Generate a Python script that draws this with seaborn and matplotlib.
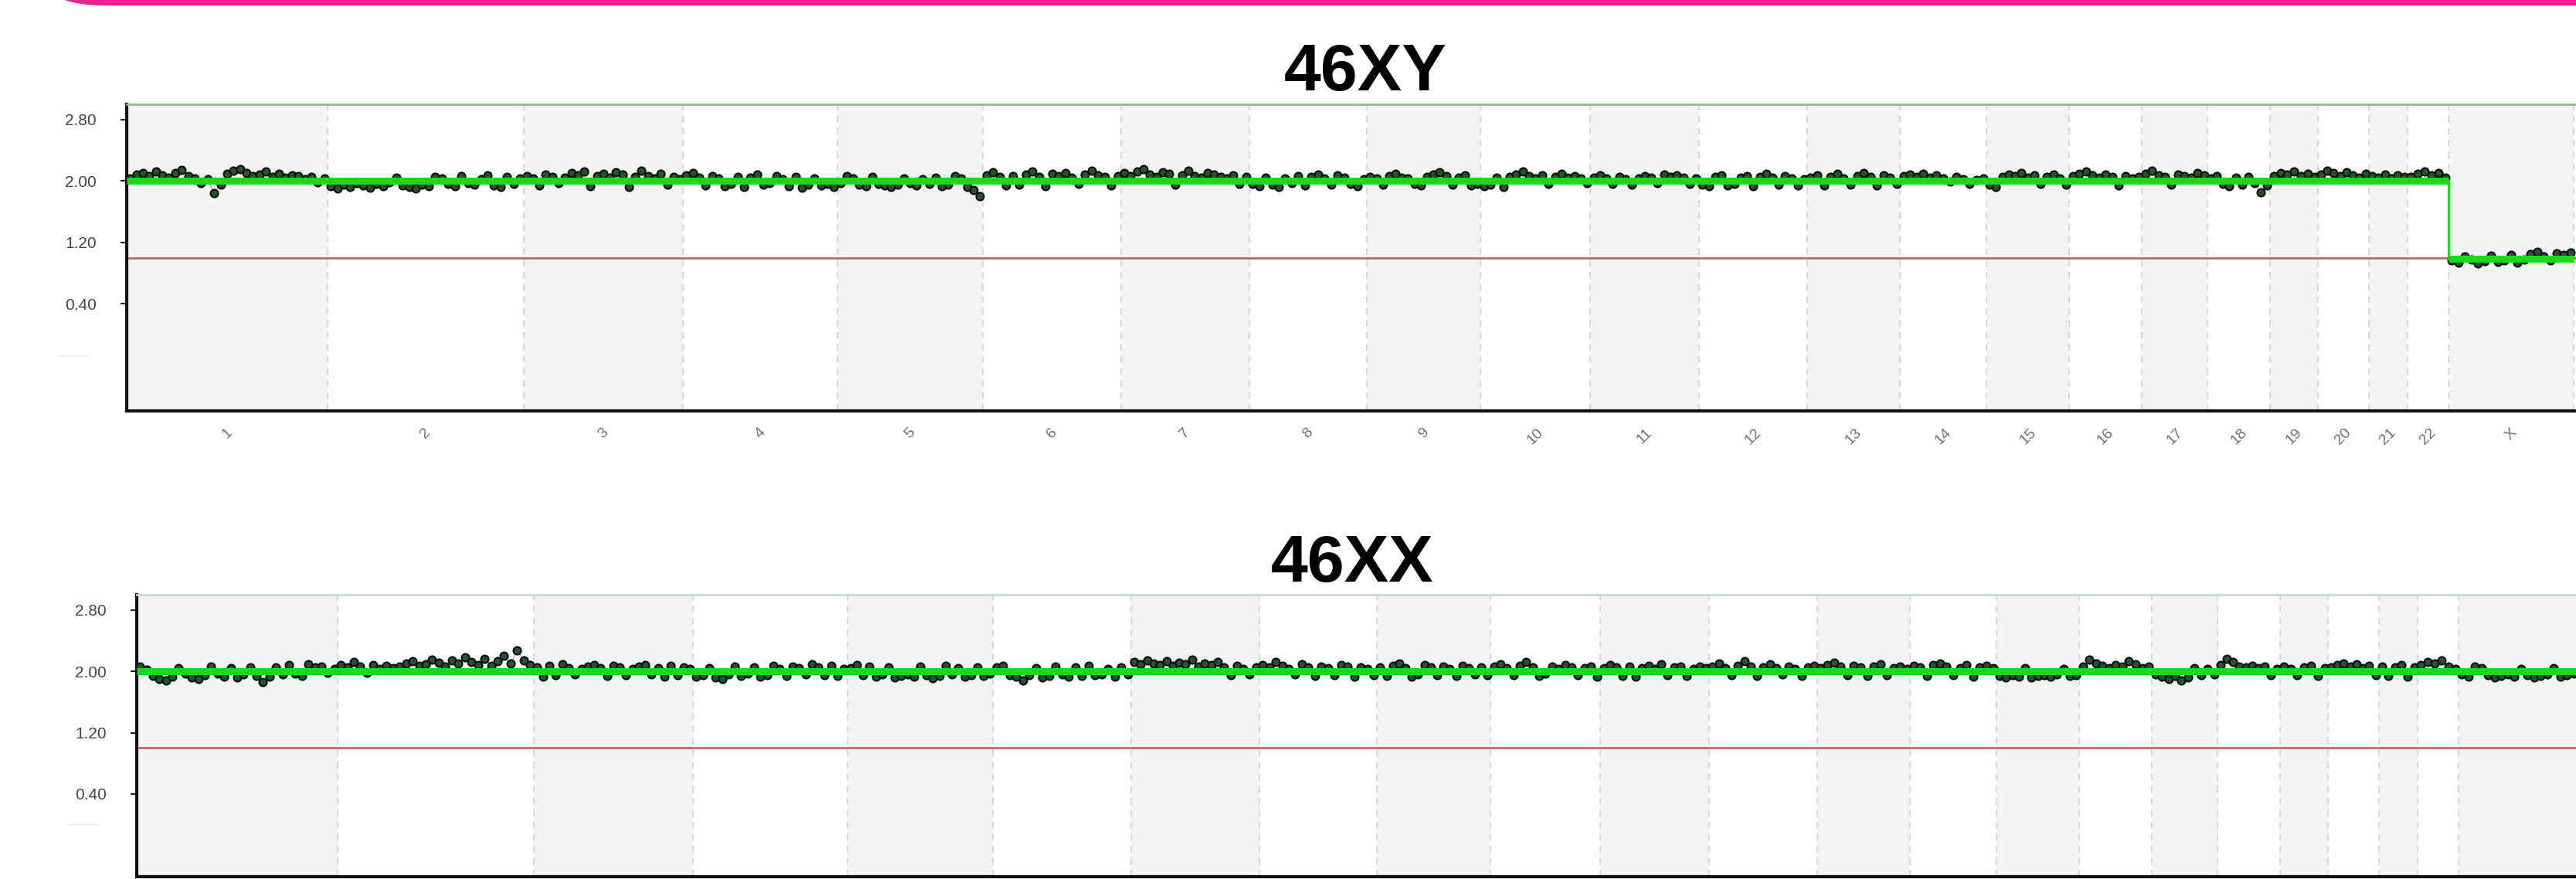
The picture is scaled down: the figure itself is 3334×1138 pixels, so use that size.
import numpy as np
import pandas as pd
import matplotlib
matplotlib.use("Agg")
import matplotlib.pyplot as plt
import seaborn as sns
from matplotlib.patches import FancyBboxPatch
from matplotlib.transforms import IdentityTransform

# chromosome layout (sizes in Mb, hg19)
chrom_names = ["1", "2", "3", "4", "5", "6", "7", "8", "9", "10", "11", "12",
               "13", "14", "15", "16", "17", "18", "19", "20", "21", "22", "X", "Y"]
chrom_sizes = [249, 243, 198, 191, 181, 171, 159, 146, 141, 136, 135, 134,
               115, 107, 103, 90, 81, 78, 59, 63, 48, 51, 155, 59]

y_ticks = [2.80, 2.00, 1.20, 0.40]
y_tick_labels = ["2.80", "2.00", "1.20", "0.40"]

# copy number per bin, one list per chromosome (46XY sample)
xy_cn = [
    [2.03, 2.08, 2.10, 2.06, 2.12, 2.07, 2.04, 2.10, 2.14, 2.06, 2.03, 1.97, 2.02, 1.84, 1.95, 2.09,
     2.13, 2.15, 2.10, 2.06, 2.08, 2.12, 2.05, 2.09, 2.04, 2.07, 2.06, 2.02, 2.05, 1.98, 2.03],
    [1.93, 1.90, 1.95, 1.92, 1.97, 1.94, 1.91, 1.96, 1.93, 1.98, 2.04, 1.94, 1.92, 1.90, 1.95, 1.93,
     2.05, 2.03, 1.96, 1.93, 2.06, 1.97, 1.95, 2.02, 2.07, 1.94, 1.92, 2.05, 1.96, 2.03],
    [2.06, 2.03, 1.94, 2.08, 2.05, 1.97, 2.04, 2.10, 2.07, 2.12, 1.93, 2.06, 2.09, 2.04, 2.11, 2.08,
     1.92, 2.05, 2.13, 2.06, 2.03, 2.09, 1.95, 2.05, 2.02],
    [2.07, 2.10, 2.04, 1.94, 2.06, 2.03, 1.93, 1.96, 2.05, 1.92, 2.04, 2.08, 1.95, 1.97, 2.06, 2.02,
     1.93, 2.05, 1.91, 1.95, 2.03, 1.94, 1.96, 1.92],
    [1.97, 2.06, 2.03, 1.95, 1.93, 2.05, 1.96, 1.94, 1.92, 1.95, 2.03, 1.97, 1.94, 2.02, 1.96, 2.04,
     1.93, 1.95, 2.06, 2.03, 1.92, 1.88, 1.80],
    [2.07, 2.11, 2.05, 1.94, 2.06, 1.95, 2.08, 2.12, 2.05, 1.93, 2.09, 2.06, 2.10, 2.04, 1.96, 2.08,
     2.13, 2.07, 2.05, 1.94, 2.06],
    [2.10, 2.06, 2.12, 2.15, 2.08, 2.05, 2.11, 2.09, 1.95, 2.07, 2.13, 2.06, 2.04, 2.10, 2.08, 2.05,
     2.03, 2.07, 1.96, 2.05],
    [1.96, 1.93, 2.04, 1.95, 1.92, 2.03, 1.97, 2.06, 1.94, 2.05, 2.08, 2.03, 1.95, 2.07, 2.04, 1.96, 1.93, 2.02],
    [2.05, 2.03, 1.95, 2.06, 2.09, 2.04, 2.03, 1.96, 1.94, 2.05, 2.08, 2.11, 2.06, 1.95, 2.04, 2.07, 1.94, 1.96],
    [1.93, 1.95, 2.04, 1.92, 2.05, 2.08, 2.12, 2.06, 2.03, 2.07, 1.96, 2.05, 2.09, 2.04, 2.06, 2.03, 1.97],
    [2.04, 2.07, 2.03, 1.96, 2.05, 2.02, 1.95, 2.03, 2.06, 2.04, 1.97, 2.08, 2.05, 2.07, 2.04, 1.96, 2.03],
    [1.95, 1.93, 2.05, 2.07, 1.94, 1.96, 2.04, 2.06, 1.93, 2.05, 2.09, 2.04, 1.95, 2.06, 2.03, 1.94, 2.02],
    [2.04, 2.07, 1.94, 2.05, 2.09, 2.03, 1.95, 2.06, 2.10, 2.05, 1.94, 2.07, 2.04, 1.96],
    [2.06, 2.08, 2.05, 2.09, 2.04, 2.07, 2.03, 1.99, 2.05, 2.02, 1.96, 2.01, 2.03],
    [1.95, 1.92, 2.05, 2.08, 2.06, 2.10, 2.04, 2.07, 1.96, 2.05, 2.08, 2.03, 1.95],
    [2.06, 2.09, 2.12, 2.07, 2.04, 2.08, 2.05, 1.94, 2.06, 2.03, 2.05],
    [2.09, 2.13, 2.07, 2.05, 1.95, 2.08, 2.06, 2.04, 2.10, 2.07],
    [2.03, 2.06, 1.96, 1.93, 2.04, 1.95, 2.05, 1.97, 1.85, 1.94],
    [2.06, 2.10, 2.08, 2.12, 2.06, 2.09, 2.05],
    [2.08, 2.13, 2.10, 2.06, 2.11, 2.07, 2.04, 2.09],
    [2.06, 2.04, 2.08, 2.03, 2.07, 2.05],
    [2.05, 2.09, 2.12, 2.07, 2.10, 2.04],
    [0.96, 0.93, 1.02, 0.97, 0.92, 0.95, 1.03, 0.94, 0.96, 1.04, 0.93, 0.97, 1.05, 1.08, 1.02, 0.96,
     1.06, 1.04, 1.07],
]

# copy number per bin, one list per chromosome (46XX sample)
xx_cn = [
    [2.06, 2.02, 1.94, 1.90, 1.88, 1.93, 2.04, 1.97, 1.92, 1.90, 1.95, 2.06, 1.97, 1.93, 2.04, 1.92,
     1.96, 2.05, 1.94, 1.86, 1.93, 2.05, 1.96, 2.08, 1.97, 1.94, 2.09, 2.05, 2.06, 1.98, 2.03],
    [2.08, 2.05, 2.12, 2.06, 1.98, 2.08, 2.03, 2.07, 2.04, 2.06, 2.10, 2.13, 2.07, 2.09, 2.15, 2.11,
     2.06, 2.14, 2.10, 2.18, 2.12, 2.08, 2.16, 2.07, 2.13, 2.20, 2.10, 2.27, 2.14, 2.08],
    [2.05, 1.93, 2.07, 1.95, 2.09, 2.04, 1.96, 2.03, 2.06, 2.08, 2.04, 1.94, 2.07, 2.05, 1.95, 2.03,
     2.06, 2.08, 1.96, 2.04, 1.93, 2.07, 1.95, 2.05, 2.03],
    [1.93, 1.95, 2.04, 1.92, 1.90, 1.96, 2.06, 1.94, 1.97, 2.05, 1.93, 1.95, 2.07, 2.03, 1.94, 2.06,
     2.04, 1.96, 2.09, 2.05, 1.95, 2.07, 1.94, 2.03],
    [2.04, 2.08, 1.95, 2.06, 1.93, 1.96, 2.05, 1.92, 1.94, 1.96, 1.93, 2.06, 1.95, 1.91, 1.94, 2.07,
     1.96, 2.04, 1.93, 1.95, 2.05, 1.94, 1.97],
    [2.05, 2.07, 1.95, 1.93, 1.88, 1.95, 2.04, 1.92, 1.94, 2.06, 1.96, 1.93, 2.05, 1.94, 2.07, 1.95,
     1.96, 2.03, 1.93, 2.05, 1.96],
    [2.12, 2.09, 2.14, 2.10, 2.08, 2.13, 2.07, 2.11, 2.09, 2.15, 2.06, 2.10, 2.08, 2.12, 2.05, 1.95,
     2.07, 2.03, 1.96, 2.05],
    [2.08, 2.05, 2.12, 2.07, 2.03, 1.96, 2.09, 2.05, 1.94, 2.06, 2.04, 1.95, 2.08, 2.06, 1.93, 2.05, 2.03, 1.95],
    [2.05, 1.94, 2.07, 2.10, 2.04, 1.93, 1.96, 2.08, 2.05, 1.95, 2.06, 2.03, 1.94, 2.07, 2.04, 1.96, 2.05, 1.95],
    [2.06, 2.09, 2.04, 1.95, 2.07, 2.12, 2.05, 1.94, 1.97, 2.06, 2.03, 2.08, 2.05, 1.95, 2.04, 2.06, 1.93],
    [2.04, 2.08, 2.05, 1.94, 2.06, 1.93, 2.04, 2.07, 2.03, 2.09, 1.95, 2.05, 2.06, 1.94, 2.03, 2.06, 2.04],
    [2.06, 2.10, 2.04, 1.95, 2.07, 2.13, 2.06, 1.94, 2.05, 2.09, 2.04, 1.96, 2.06, 2.03, 1.94, 2.05, 2.07],
    [2.04, 2.08, 2.11, 2.06, 1.95, 2.07, 2.05, 1.94, 2.06, 2.09, 1.95, 2.04, 2.06, 2.03],
    [2.07, 2.05, 1.94, 2.08, 2.10, 2.06, 1.95, 2.04, 2.08, 1.93, 2.05, 2.07, 2.04],
    [1.94, 1.92, 1.95, 1.93, 2.04, 1.92, 1.94, 1.95, 1.93, 1.96, 2.03, 1.94, 1.95],
    [2.06, 2.15, 2.10, 2.07, 2.04, 2.08, 2.06, 2.13, 2.09, 2.04, 2.06],
    [1.96, 1.93, 1.90, 1.94, 1.88, 1.92, 2.04, 1.95, 2.03, 1.96],
    [2.08, 2.16, 2.12, 2.06, 2.05, 2.07, 2.04, 2.06, 1.95, 2.03],
    [2.06, 2.03, 1.95, 2.05, 2.07, 1.94, 2.04],
    [2.05, 2.08, 2.10, 2.06, 2.09, 2.04, 2.07, 1.95],
    [2.06, 1.94, 2.05, 2.08, 1.93, 2.05],
    [2.08, 2.12, 2.10, 2.14, 2.06, 2.03],
    [1.96, 1.93, 2.06, 2.04, 1.95, 1.92, 1.94, 1.96, 1.93, 2.03, 1.95, 1.92, 1.94, 1.96, 2.04, 1.93,
     1.95, 1.97, 2.05],
]

# called segments: (first chromosome, last chromosome, copy number)
xy_segments = [("1", "22", 2.00), ("X", "X", 0.98)]
xx_segments = [("1", "X", 2.00)]

W, H = 3334, 1138


def chrom_frame(values):
    rows = []
    offset = 0
    for name, size, vals in zip(chrom_names, chrom_sizes, values):
        n = len(vals)
        for i, v in enumerate(vals):
            rows.append({"chrom": name, "pos": offset + (i + 0.5) * size / n, "cn": v})
        offset += size
    return pd.DataFrame(rows)


def draw_panel(ax, values, segments, ylim, dash_y, top_color):
    ends = np.cumsum(chrom_sizes)
    starts = ends - np.array(chrom_sizes)

    # alternating chromosome bands + dashed separators
    for i, (s, e) in enumerate(zip(starts, ends)):
        if i % 2 == 0:
            ax.axvspan(s, e, color="#f3f3f3", lw=0, zorder=0)
        if i > 0:
            ax.axvline(s, color="#dadada", ls=(0, (4, 3)), lw=1.6, zorder=1)

    ax.axhline(1.0, color="#b65c5c", lw=1.8, zorder=2)

    df = chrom_frame(values)
    for _, g in df.groupby("chrom", sort=False):
        ax.plot(g["pos"], g["cn"], color="#a0a0d8", lw=0.8, zorder=3)
    sns.scatterplot(data=df, x="pos", y="cn", ax=ax, s=52, color="#24552a",
                    edgecolor="#0a0a0a", linewidth=1.5, zorder=4, legend=False)

    idx = {n: i for i, n in enumerate(chrom_names)}
    prev = None
    for a, b, lvl in segments:
        x0, x1 = starts[idx[a]], ends[idx[b]]
        if prev is not None and prev != lvl:
            ax.plot([x0, x0], [prev, lvl], color="#22d822", lw=2.2, zorder=5)
        ax.plot([x0, x1], [lvl, lvl], color="#14dc14", lw=6.5,
                solid_capstyle="butt", zorder=5)
        prev = lvl

    ax.set_xlim(0, ends[-1])
    ax.set_ylim(*ylim)
    ax.set_xticks((starts + ends) / 2)
    ax.set_xticklabels(chrom_names, rotation=45, color="#707070", fontsize=14)
    ax.set_yticks(y_ticks)
    ax.set_yticklabels(y_tick_labels, color="#454545", fontsize=15)
    ax.tick_params(axis="y", length=6, width=1.5, color="#222222", pad=22, left=True)
    ax.tick_params(axis="x", length=0, pad=14)
    ax.set_xlabel("")
    ax.set_ylabel("")

    for side in ["left", "bottom"]:
        ax.spines[side].set_color("#111111")
        ax.spines[side].set_linewidth(3)
    ax.spines["top"].set_color(top_color)
    ax.spines["top"].set_linewidth(2)
    ax.spines["right"].set_visible(False)

    # faded leftover label below the ticks
    ax.annotate("\u2014\u2014", xy=(0, dash_y), xycoords=ax.get_yaxis_transform(),
                xytext=(-49, 0), textcoords="offset points", ha="center", va="center",
                color="#e8e8e8", fontsize=14)


sns.set_theme(style="white")
plt.rcParams["font.family"] = ["Liberation Sans", "DejaVu Sans"]

fig = plt.figure(figsize=(W / 100, H / 100), dpi=100)
fig.patch.set_facecolor("white")

total = sum(chrom_sizes)
px_per_mb = (3169 - 164) / sum(chrom_sizes[:22])
axw = total * px_per_mb / W

ax_top = fig.add_axes([164 / W, 1 - 532 / H, axw, (532 - 135) / H])
ax_bot = fig.add_axes([177 / W, 1 - 1135 / H, axw, (1135 - 770) / H])

draw_panel(ax_top, xy_cn, xy_segments, (-1.0, 3.0), -0.28, "#8fbf8f")
draw_panel(ax_bot, xx_cn, xx_segments, (-0.68, 3.0), 0.0, "#c4dfc4")

fig.text(1767 / W, 1 - 117 / H, "46XY", ha="center", va="baseline",
         fontsize=62, fontweight="bold", color="black")
fig.text(1750 / W, 1 - 753 / H, "46XX", ha="center", va="baseline",
         fontsize=62, fontweight="bold", color="black")

# pink banner at the very top
banner = FancyBboxPatch((22, H - 7), 3600, 400, boxstyle="round,pad=0,rounding_size=110",
                        transform=IdentityTransform(), facecolor="#ec2290", edgecolor="none")
fig.add_artist(banner)

fig.savefig("out.png", dpi=100)
